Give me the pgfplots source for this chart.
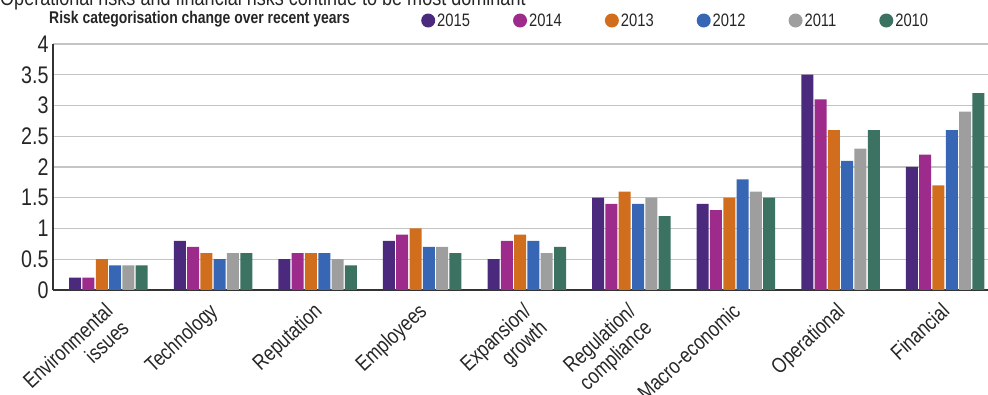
\documentclass[border=0pt]{standalone}
\usepackage{fontspec}
\setmainfont{Liberation Sans}[FakeStretch=0.82]
\usepackage{pgfplots}
\pgfplotsset{compat=1.18}
\definecolor{c15}{HTML}{4B2A7D}
\definecolor{c14}{HTML}{9C2B8C}
\definecolor{c13}{HTML}{D06E1E}
\definecolor{c12}{HTML}{3766B4}
\definecolor{c11}{HTML}{9E9E9E}
\definecolor{c10}{HTML}{3B7262}
\definecolor{gridc}{HTML}{C4C4C4}
\definecolor{axc}{HTML}{333333}
\definecolor{txt}{HTML}{262626}
\begin{document}
\begin{tikzpicture}
\useasboundingbox (0,0) rectangle (988pt,395pt);
\node[anchor=base west, font=\fontsize{22}{24}\selectfont, text=txt, inner sep=0] at (0pt,389pt) {Operational risks and financial risks continue to be most dominant};
\node[anchor=base west, font=\fontsize{17}{19}\selectfont\bfseries, text=txt, inner sep=0] at (49pt,371pt) {Risk categorisation change over recent years};
\begin{axis}[
  at={(53pt,105pt)}, anchor=south west,
  scale only axis, width=935pt, height=246pt,
  ybar=1.3pt, bar width=12pt,
  xmin=-0.53, xmax=8.41, ymin=0, ymax=4,
  xtick={0,1,2,3,4,5,6,7,8},
  xticklabels={{Environmental\\issues},Technology,Reputation,Employees,{Expansion/\\growth},{Regulation/\\compliance},Macro-economic,Operational,Financial},
  ytick={0,0.5,1,1.5,2,2.5,3,3.5,4},
  axis x line*=bottom, axis y line*=left,
  axis line style={-, axc, line width=1.2pt},
  ymajorgrids, major grid style={gridc, line width=1.4pt},
  major tick length=0pt,
  /pgf/number format/assume math mode=true,
  yticklabel style={font=\fontsize{24}{26}\selectfont, text=txt, xshift=-1pt},
  xticklabel style={font=\fontsize{21.5}{23.5}\selectfont, text=txt, xshift=-5pt, yshift=-10pt, rotate=43, anchor=north east, align=right, inner sep=1pt},
  legend columns=6,
  legend style={at={(0.3936,1.0955)}, anchor=west, draw=none, fill=none, inner sep=0pt,
    font=\fontsize{18}{20}\selectfont, text=txt,
    /tikz/every even column/.append style={column sep=41pt},
    nodes={inner sep=2pt}},
  legend image code/.code={\fill[#1] (0pt,0pt) circle (7pt);},
]
\addplot[fill=c15, draw=none] coordinates {(0,0.2) (1,0.8) (2,0.5) (3,0.8) (4,0.5) (5,1.5) (6,1.4) (7,3.5) (8,2.0)};
\addplot[fill=c14, draw=none] coordinates {(0,0.2) (1,0.7) (2,0.6) (3,0.9) (4,0.8) (5,1.4) (6,1.3) (7,3.1) (8,2.2)};
\addplot[fill=c13, draw=none] coordinates {(0,0.5) (1,0.6) (2,0.6) (3,1.0) (4,0.9) (5,1.6) (6,1.5) (7,2.6) (8,1.7)};
\addplot[fill=c12, draw=none] coordinates {(0,0.4) (1,0.5) (2,0.6) (3,0.7) (4,0.8) (5,1.4) (6,1.8) (7,2.1) (8,2.6)};
\addplot[fill=c11, draw=none] coordinates {(0,0.4) (1,0.6) (2,0.5) (3,0.7) (4,0.6) (5,1.5) (6,1.6) (7,2.3) (8,2.9)};
\addplot[fill=c10, draw=none] coordinates {(0,0.4) (1,0.6) (2,0.4) (3,0.6) (4,0.7) (5,1.2) (6,1.5) (7,2.6) (8,3.2)};
\legend{2015,2014,2013,2012,2011,2010}
\end{axis}
\end{tikzpicture}
\end{document}
